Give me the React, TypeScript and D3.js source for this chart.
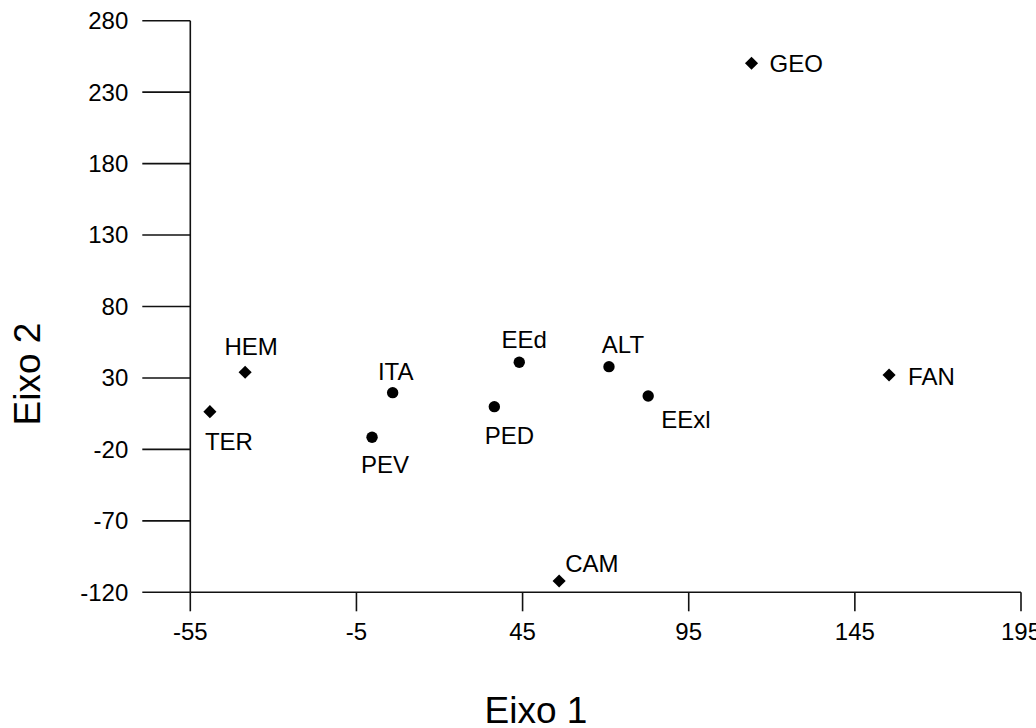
import React from "react";
import * as d3 from "d3";

// ---- data ----
const names = ["TER", "HEM", "ITA", "PEV", "PED", "EEd", "ALT", "EExl", "GEO", "FAN", "CAM"];
const eixo1 = [-49.1, -38.5, 5.9, -0.3, 36.5, 44.0, 71.0, 82.8, 113.9, 155.3, 56.0];
const eixo2 = [6.4, 34.0, 19.7, -11.5, 9.9, 41.0, 37.9, 17.4, 250.2, 32.1, -112.1];
const groups = ["diamond", "diamond", "circle", "circle", "circle", "circle", "circle", "circle", "diamond", "diamond", "diamond"];
const xTicks = [-55, -5, 45, 95, 145, 195];
const yTicks = [-120, -70, -20, 30, 80, 130, 180, 230, 280];

// label placement (offsets from marker, px)
const labelPlace: Record<string, { dx: number; dy: number; anchor: string }> = {
  TER: { dx: 19, dy: 38, anchor: "middle" },
  HEM: { dx: 6, dy: -17, anchor: "middle" },
  ITA: { dx: 3, dy: -13, anchor: "middle" },
  PEV: { dx: 13, dy: 36, anchor: "middle" },
  PED: { dx: 15, dy: 37, anchor: "middle" },
  EEd: { dx: 5, dy: -14, anchor: "middle" },
  ALT: { dx: 14, dy: -14, anchor: "middle" },
  EExl: { dx: 13, dy: 32, anchor: "start" },
  GEO: { dx: 18, dy: 9, anchor: "start" },
  FAN: { dx: 19, dy: 10, anchor: "start" },
  CAM: { dx: 6, dy: -9, anchor: "start" },
};

const W = 1036;
const H = 728;
const FONT = "'Liberation Sans', Arial, Helvetica, sans-serif";
const FS = 24;

export default function App() {
  const x = d3.scaleLinear().domain([-55, 195]).range([190.3, 1021]);
  const y = d3.scaleLinear().domain([-120, 280]).range([592.3, 20.7]);
  const x0 = x(-55);
  const y0 = y(-120);
  const diamond = d3.symbol().type(d3.symbolDiamond2).size(2 * 7.4 * 7.4)();

  return (
    <svg
      width={W}
      height={H}
      style={{ position: "absolute", left: 0, top: 0, background: "#fff" }}
      fontFamily={FONT}
    >
      {/* y axis */}
      <line x1={x0} x2={x0} y1={y(280)} y2={y0} stroke="#111" strokeWidth={1.6} />
      {yTicks.map((t) => (
        <g key={"y" + t}>
          <line x1={x0 - 48} x2={x0} y1={y(t)} y2={y(t)} stroke="#111" strokeWidth={1.6} />
          <text x={x0 - 62} y={y(t)} dy="0.35em" textAnchor="end" fontSize={FS} fill="#000">
            {t}
          </text>
        </g>
      ))}
      {/* x axis */}
      <line x1={x0} x2={x(195)} y1={y0} y2={y0} stroke="#111" strokeWidth={1.6} />
      {xTicks.map((t) => (
        <g key={"x" + t}>
          <line x1={x(t)} x2={x(t)} y1={y0} y2={y0 + 19} stroke="#111" strokeWidth={1.6} />
          <text x={x(t)} y={640} textAnchor="middle" fontSize={FS} fill="#000">
            {t}
          </text>
        </g>
      ))}
      {/* axis titles */}
      <text x={536} y={723} textAnchor="middle" fontSize={37} fill="#000">
        Eixo 1
      </text>
      <text
        transform={`translate(40,374) rotate(-90)`}
        textAnchor="middle"
        fontSize={37}
        fill="#000"
      >
        Eixo 2
      </text>
      {/* points */}
      {names.map((n, i) => {
        const px = x(eixo1[i]);
        const py = y(eixo2[i]);
        const lp = labelPlace[n];
        return (
          <g key={n}>
            {groups[i] === "diamond" ? (
              <path d={diamond as string} transform={`translate(${px},${py})`} fill="#000" />
            ) : (
              <circle cx={px} cy={py} r={5.7} fill="#000" />
            )}
            <text
              x={px + lp.dx}
              y={py + lp.dy}
              textAnchor={lp.anchor}
              fontSize={FS}
              fill="#000"
            >
              {n}
            </text>
          </g>
        );
      })}
    </svg>
  );
}
